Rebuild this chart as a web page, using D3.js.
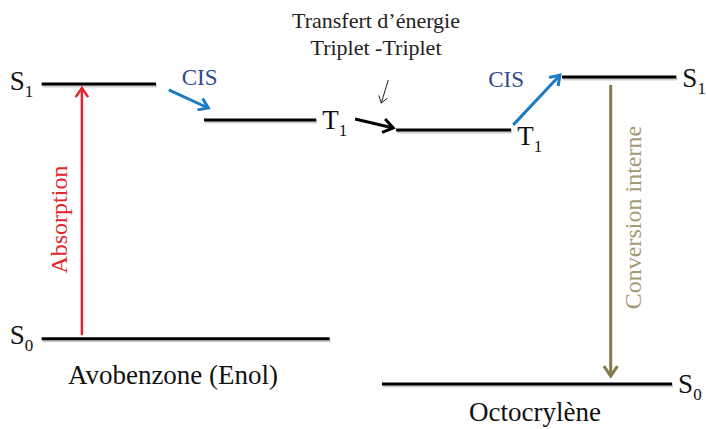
<!DOCTYPE html>
<html>
<head>
<meta charset="utf-8">
<script src="https://cdn.jsdelivr.net/npm/d3@7"></script>
<style>
  body { margin: 0; background: #fff; }
  svg { display: block; font-family: "Liberation Serif", "DejaVu Serif", serif; }
</style>
</head>
<body>
<svg id="chart"></svg>
<script>
const canWidth = 706;
const canHeight = 429;

// energy levels (arbitrary energy units, 0 = S0 of octocrylene)
const levelNames = ["S1", "S0", "T1", "T1", "S1", "S0"];
const levelEnergies = [97.7, 14.7, 86.0, 82.7, 100, 0];
const levelStart = [5.9, 5.9, 28.9, 56.1, 79.6, 54.1];   // reaction coordinate
const levelEnd = [22.1, 46.7, 44.8, 72.4, 95.8, 95.2];

// transitions between levels
const arrowNames = ["Absorption", "CIS", "Transfert", "CIS", "Conversion interne", "pointer"];
const arrowX0 = [11.6, 23.9, 50.3, 72.7, 86.5, 55.0];
const arrowX1 = [11.6, 29.5, 55.7, 79.3, 86.5, 54.0];
const arrowE0 = [15.9, 95.8, 86.3, 84.4, 97.4, 99.0];
const arrowE1 = [96.4, 89.9, 83.4, 100.6, 2.6, 91.5];

const moleculeNames = ["Avobenzone (Enol)", "Octocrylène"];

const xs = d3.scaleLinear().domain([0, 100]).range([0, canWidth]);
const ys = d3.scaleLinear().domain([0, 100]).range([384, 77]);

const svg = d3.select('#chart').attr('width', canWidth).attr('height', canHeight);

// label placement per level: side and vertical offset
const labelSide = ["left", "left", "right", "right", "right", "right"];
const labelDy = [6, 5, 9, 15, 10, 9];

// level lines with a soft shadow
levelNames.forEach(function(name, i) {
    svg.append('line')
      .attr('x1', xs(levelStart[i]) + 1).attr('x2', xs(levelEnd[i]) + 1)
      .attr('y1', ys(levelEnergies[i]) + 2).attr('y2', ys(levelEnergies[i]) + 2)
      .attr('stroke', '#cfcfcf').attr('stroke-width', 3);
    svg.append('line')
      .attr('x1', xs(levelStart[i])).attr('x2', xs(levelEnd[i]))
      .attr('y1', ys(levelEnergies[i])).attr('y2', ys(levelEnergies[i]))
      .attr('stroke', '#000').attr('stroke-width', 3);

    const left = labelSide[i] == "left";
    const t = svg.append('text')
      .attr('x', left ? xs(levelStart[i]) - 32 : xs(levelEnd[i]) + 6)
      .attr('y', ys(levelEnergies[i]) + labelDy[i])
      .attr('font-size', 27).attr('fill', '#111');
    t.append('tspan').text(name[0]);
    t.append('tspan').attr('font-size', 17).attr('dy', 7).text(name[1]);
});

const arrowColors = ["#e3242b", "#1b7cc4", "#000", "#1b7cc4", "#857a4f", "#222"];
const arrowWidths = [2.5, 3, 3, 3, 3, 1];
const headSize = [11, 11, 12, 11, 12, 8];

arrowNames.forEach(function(name, i) {
    const x0 = xs(arrowX0[i]), y0 = ys(arrowE0[i]);
    const x1 = xs(arrowX1[i]), y1 = ys(arrowE1[i]);
    svg.append('line')
      .attr('x1', x0).attr('y1', y0).attr('x2', x1).attr('y2', y1)
      .attr('stroke', arrowColors[i]).attr('stroke-width', arrowWidths[i]);
    const a = Math.atan2(y1 - y0, x1 - x0);
    const h = headSize[i], w = 0.6;
    const p1 = [x1 - h * Math.cos(a - w), y1 - h * Math.sin(a - w)];
    const p2 = [x1 - h * Math.cos(a + w), y1 - h * Math.sin(a + w)];
    svg.append('path')
      .attr('d', `M${p1[0]},${p1[1]} L${x1},${y1} L${p2[0]},${p2[1]}`)
      .attr('fill', 'none').attr('stroke', arrowColors[i])
      .attr('stroke-width', arrowWidths[i]).attr('stroke-linejoin', 'miter');
});

// vertical labels
svg.append('text')
  .attr('transform', `translate(${xs(arrowX0[0]) - 15},${(ys(arrowE0[0]) + ys(arrowE1[0])) / 2 + 8}) rotate(-90)`)
  .attr('text-anchor', 'middle').attr('font-size', 24).attr('fill', '#e3242b')
  .text(arrowNames[0]);
svg.append('text')
  .attr('transform', `translate(${xs(arrowX0[4]) + 30},${(ys(arrowE0[4]) + ys(arrowE1[4])) / 2 - 13}) rotate(-90)`)
  .attr('text-anchor', 'middle').attr('font-size', 24).attr('fill', '#a49a78')
  .text(arrowNames[4]);

// CIS labels
svg.append('text').attr('x', xs(arrowX0[1]) + 13).attr('y', 85)
  .attr('text-anchor', 'start').attr('font-size', 23).attr('fill', '#2f4a8e').text("CIS");
svg.append('text').attr('x', xs(arrowX0[3]) - 25).attr('y', 87)
  .attr('text-anchor', 'start').attr('font-size', 23).attr('fill', '#2f4a8e').text("CIS");

// energy transfer caption
svg.append('text').attr('x', 376).attr('y', 28)
  .attr('text-anchor', 'middle').attr('font-size', 22).attr('fill', '#222')
  .text("Transfert d\u2019énergie");
svg.append('text').attr('x', 376).attr('y', 55)
  .attr('text-anchor', 'middle').attr('font-size', 22).attr('fill', '#222')
  .text("Triplet -Triplet");

// molecule names
svg.append('text').attr('x', 173).attr('y', 384)
  .attr('text-anchor', 'middle').attr('font-size', 27).attr('fill', '#111')
  .text(moleculeNames[0]);
svg.append('text').attr('x', 535).attr('y', 421)
  .attr('text-anchor', 'middle').attr('font-size', 27).attr('fill', '#111')
  .text(moleculeNames[1]);
</script>
</body>
</html>
